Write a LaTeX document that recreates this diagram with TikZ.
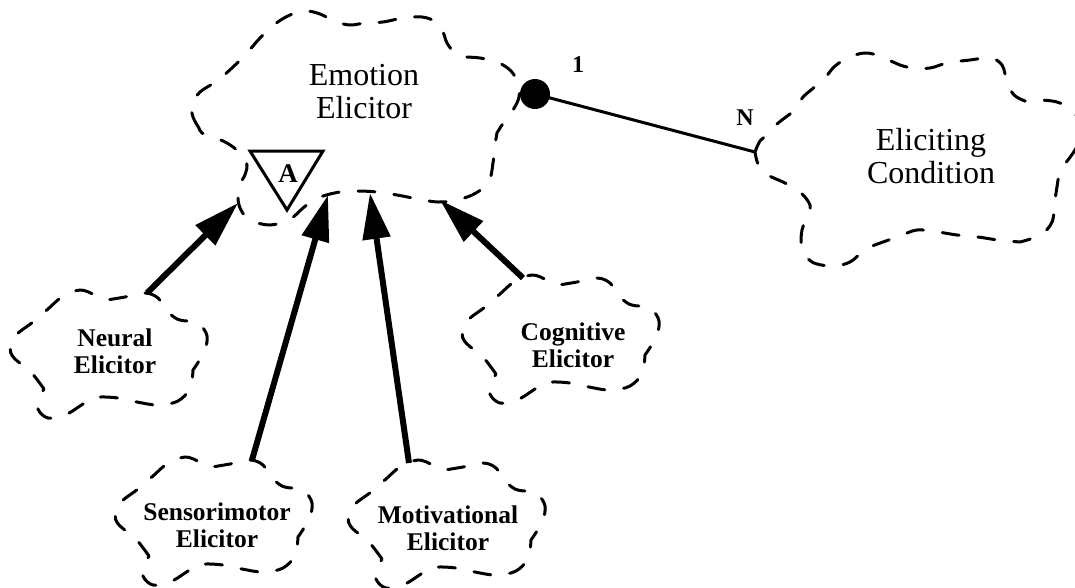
\documentclass[tikz,border=0pt]{standalone}
\usepackage{fontspec}
\setmainfont{Liberation Serif}
\usetikzlibrary{arrows.meta}
\begin{document}
\begin{tikzpicture}[x=1pt,y=-1pt,
  cloudline/.style={line width=3pt, dash pattern=on 17pt off 19pt, line cap=round},
  lobe/.style={smooth, tension=0.6},
  biglabel/.style={align=center, inner sep=0pt, font=\fontsize{32}{33}\selectfont},
  smalllabel/.style={align=center, inner sep=0pt, font=\fontsize{25.5}{27}\selectfont\bfseries},
  mult/.style={inner sep=0pt, font=\fontsize{24}{24}\selectfont\bfseries},
  inherit/.style={line width=6pt, -{Triangle[length=46pt,width=27pt]}},
  assoc/.style={line width=3pt},
  smallcloud/.pic={
    \draw[cloudline]
      plot[lobe] coordinates {(-65,36) (-79,18) (-95,5) (-99,-6) (-93,-18) (-76,-31) (-61,-44) (-47,-56) (-29,-63) (-14,-58) (-2,-53)}
      -- plot[lobe] coordinates {(-2,-53) (16,-56) (36,-60) (49,-55) (57,-43) (68,-34) (78,-32)}
      -- plot[lobe] coordinates {(78,-32) (90,-29) (98,-17) (95,-1) (84,17)}
      -- plot[lobe] coordinates {(84,17) (81,35) (69,48) (49,52) (28,49) (9,45) (-9,44) (-19,46)}
      -- plot[lobe] coordinates {(-19,46) (-29,53) (-44,62) (-61,65) (-71,56) (-69,44) (-65,36)}
      -- cycle;
    \coordinate (-tl) at (-38,-60);
    \coordinate (-tr) at (38,-60);
  }
]
\useasboundingbox (0,0) rectangle (1075,587);

% Emotion Elicitor class cloud
\draw[cloudline]
  plot[lobe] coordinates {(199,128) (193,117) (192,105) (200,92) (217,81) (233,67) (247,53) (260,38) (275,24) (290,15) (305,11) (320,14) (335,22)}
  -- plot[lobe] coordinates {(335,22) (350,25) (365,23) (383,22) (403,18) (422,17) (436,22) (443,32) (447,43) (455,53) (465,57)}
  -- plot[lobe] coordinates {(465,57) (480,58) (497,62) (511,71) (518,84) (519,97) (513,110) (502,125) (497,133)}
  -- plot[lobe] coordinates {(497,133) (495,145) (493,163) (489,181) (476,193) (457,200) (438,202) (418,199) (397,195) (377,192) (357,191) (340,192) (323,196) (312,201)}
  -- plot[lobe] coordinates {(312,201) (303,208) (290,219) (270,225) (250,220) (241,210) (238,198) (240,185) (244,177)}
  -- plot[lobe] coordinates {(244,177) (247,165) (240,153) (227,143) (213,137) (202,133) (199,128)}
  -- cycle;
\coordinate (ee-a1) at (238,203);
\coordinate (ee-a2) at (328,195);
\coordinate (ee-a3) at (370,193);
\coordinate (ee-a4) at (440,200);
\node[biglabel] (emotion) at (364,92) {Emotion\\Elicitor};

% abstract class adornment
\draw[line width=3pt, line join=miter] (250,151) -- (323,151) -- (287,210) -- cycle;
\node[inner sep=0pt, font=\fontsize{27}{27}\selectfont\bfseries] (abstract) at (288,174) {A};

% Eliciting Condition class cloud
\draw[cloudline]
  plot[lobe] coordinates {(755,152) (760,141) (768,134) (777,124) (797,108) (803,97) (823,80) (835,66) (850,57) (865,53) (880,56) (893,62) (900,65)}
  -- plot[lobe] coordinates {(900,65) (912,68) (930,68) (947,63) (970,60) (990,58) (1002,65) (1007,82) (1014,95) (1025,101)}
  -- plot[lobe] coordinates {(1025,101) (1040,100) (1060,103) (1076,115) (1082,133) (1075,150) (1063,167) (1058,180)}
  -- plot[lobe] coordinates {(1058,180) (1055,200) (1052,222) (1040,235) (1020,242)}
  -- plot[lobe] coordinates {(1020,242) (998,240) (978,237) (957,235) (938,232) (917,230) (900,236) (883,242) (872,246)}
  -- plot[lobe] coordinates {(872,246) (862,252) (850,262) (833,266) (812,262) (802,248) (802,230) (808,216)}
  -- plot[lobe] coordinates {(808,216) (810,205) (800,192) (785,183) (766,174) (758,164) (755,152)}
  -- cycle;
\coordinate (ec-att) at (755,152);
\node[biglabel] (condition) at (931,156) {Eliciting\\Condition};

% has-a association with cardinalities
\node[circle, fill, inner sep=0pt, minimum size=30pt] (agg) at (535,94) {};
\draw[assoc] (agg.center) -- (ec-att);
\node[mult] (one) at (578,65) {1};
\node[mult] (many) at (745,118) {N};

% subclass clouds
\pic (neural) at (109,353) {smallcloud};
\pic (cognitive) at (561,338) {smallcloud};
\pic (sensori) at (214,520) {smallcloud};
\pic (motiv) at (447,523) {smallcloud};

\node[smalllabel] (neurallbl) at (115,351) {Neural\\Elicitor};
\node[smalllabel] (cognitivelbl) at (573,345) {Cognitive\\Elicitor};
\node[smalllabel] (sensorilbl) at (217,525) {Sensorimotor\\Elicitor};
\node[smalllabel] (motivlbl) at (448,528) {Motivational\\Elicitor};

% inheritance arrows
\draw[inherit] (neural-tr) -- (ee-a1);
\draw[inherit] (sensori-tr) -- (ee-a2);
\draw[inherit] (motiv-tl) -- (ee-a3);
\draw[inherit] (cognitive-tl) -- (ee-a4);
\end{tikzpicture}
\end{document}
